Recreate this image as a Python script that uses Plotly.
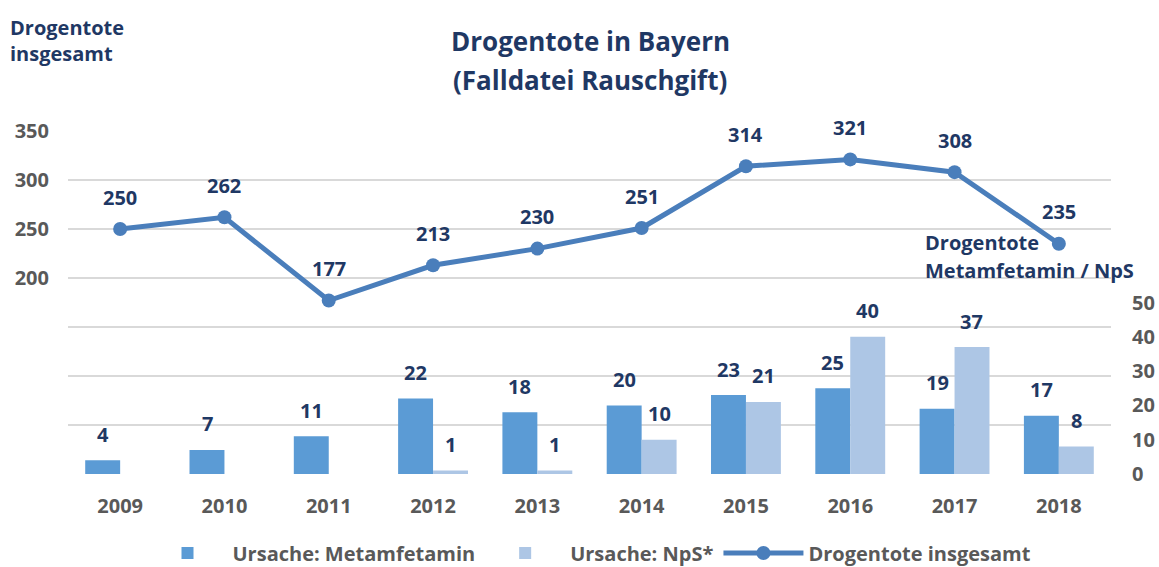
import plotly.graph_objects as go

years = ["2009", "2010", "2011", "2012", "2013", "2014", "2015", "2016", "2017", "2018"]
total = [250, 262, 177, 213, 230, 251, 314, 321, 308, 235]
meth = [4, 7, 11, 22, 18, 20, 23, 25, 19, 17]
nps = [None, None, None, 1, 1, 10, 21, 40, 37, 8]
left_tickvals = [0, 50, 100, 150, 200, 250, 300, 350]
left_ticktext = ["", "", "", "", "200", "250", "300", "350"]
right_tickvals = [0, 10, 20, 30, 40, 50]

NAVY = "#1F3864"
GRAY = "#595959"
FONT = "Open Sans"

L, R, T, B = 68, 48, 131, 93
W, H = 1159, 567
pw, ph = W - L - R, H - T - B


def px2paper(px, py):
    return (px - L) / pw, (H - B - py) / ph


fig = go.Figure()
fig.add_trace(go.Bar(x=years, y=meth, name="Ursache: Metamfetamin",
                     marker=dict(color="#5B9BD5", line=dict(width=0)), yaxis="y2"))
fig.add_trace(go.Bar(x=years, y=nps, name="Ursache: NpS*",
                     marker=dict(color="#ADC6E5", line=dict(width=0)), yaxis="y2"))
fig.add_trace(go.Scatter(x=years, y=total, name="Drogentote insgesamt", mode="lines+markers",
                         line=dict(color="#4A7EBB", width=5),
                         marker=dict(size=14, color="#4A7EBB"), yaxis="y"))

LBL = dict(family=FONT, size=20, color=NAVY, weight="bold")
ann = []
for i, v in enumerate(total):
    ann.append(dict(x=i, y=v, xref="x", yref="y", text=str(v), showarrow=False,
                    yshift=32, font=LBL))
for i, v in enumerate(meth):
    ann.append(dict(x=i, y=v, xref="x", yref="y2", text=str(v), showarrow=False,
                    xshift=-17.4, yshift=26, font=LBL))
for i, v in enumerate(nps):
    if v is None:
        continue
    ann.append(dict(x=i, y=v, xref="x", yref="y2", text=str(v), showarrow=False,
                    xshift=17.4, yshift=26, font=LBL))


def text_at(px, py, txt, size, anchor="left"):
    xx, yy = px2paper(px, py)
    ann.append(dict(x=xx, y=yy, xref="paper", yref="paper", xanchor=anchor, yanchor="middle",
                    text="<b>" + txt + "</b>", showarrow=False,
                    font=dict(family=FONT, size=size, color=NAVY)))


text_at(8, 27, "Drogentote", 20)
text_at(8, 54, "insgesamt", 20)
text_at(923, 242, "Drogentote", 20)
text_at(923, 270, "Metamfetamin / NpS", 20)
text_at(590, 41, "Drogentote in Bayern", 26, "center")
text_at(590, 80, "(Falldatei Rauschgift)", 26, "center")

fig.update_layout(
    width=W, height=H,
    margin=dict(l=L, r=R, t=T, b=B, autoexpand=False),
    paper_bgcolor="white", plot_bgcolor="white",
    barmode="group", bargap=0.33, bargroupgap=0,
    xaxis=dict(type="category", range=[-0.5, 9.5], showgrid=False, showline=False,
               ticks="", zeroline=False, automargin=False,
               tickfont=dict(family=FONT, size=20, color=GRAY, weight="bold"),
               ticklabelstandoff=18),
    yaxis=dict(range=[0, 350], tickvals=left_tickvals, ticktext=left_ticktext,
               showgrid=True, gridcolor="#D9D9D9", gridwidth=2, zeroline=False,
               showline=False, ticks="", automargin=False,
               tickfont=dict(family=FONT, size=20, color=GRAY, weight="bold"),
               ticklabelstandoff=18),
    yaxis2=dict(range=[0, 100], overlaying="y", side="right", tickvals=right_tickvals,
                showgrid=False, zeroline=False, showline=False, ticks="", automargin=False,
                tickfont=dict(family=FONT, size=20, color=GRAY, weight="bold"),
                ticklabelstandoff=20),
    legend=dict(orientation="h", x=0.5, xanchor="center", yref="container",
                y=14 / H, yanchor="middle",
                font=dict(family=FONT, size=20, color=GRAY, weight="bold"),
                traceorder="normal", itemwidth=80),
    annotations=ann,
    showlegend=True,
)

fig.write_html("out.html", config={"displayModeBar": False},
               post_script="document.body.style.margin='0';document.body.style.overflow='hidden';")
